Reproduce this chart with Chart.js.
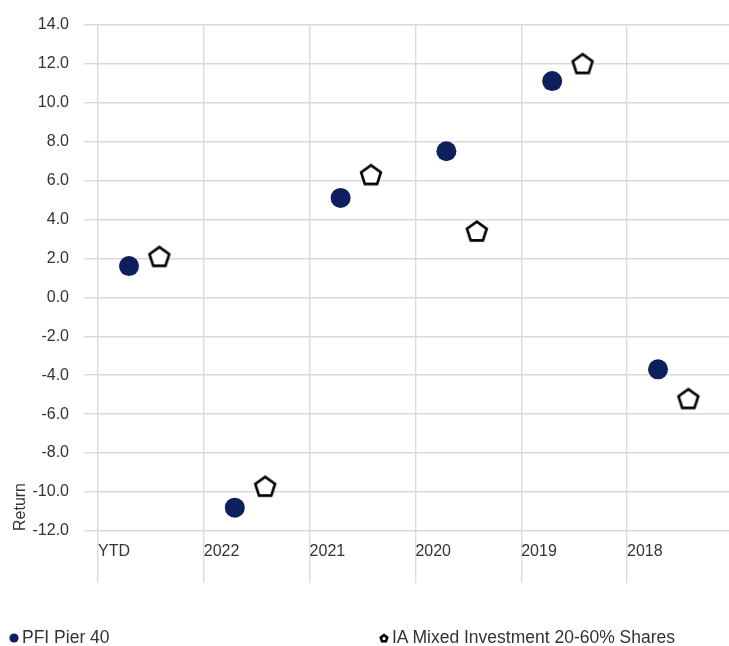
<!DOCTYPE html>
<html>
<head>
<meta charset="utf-8">
<script src="https://cdn.jsdelivr.net/npm/chart.js@4"></script>
<style>
  html, body { margin: 0; padding: 0; background: #fff; overflow: hidden; }
  #wrap { position: relative; width: 729px; height: 646px; }
  .leg { position: absolute; top: 626px; font: 17.5px "Liberation Sans", Arial, sans-serif; color: #333; white-space: nowrap; line-height: 22px; }
</style>
</head>
<body>
<div id="wrap">
  <canvas id="myChart" width="729" height="646"></canvas>
  <div class="leg" id="leg1" style="left:22px"></div>
  <div class="leg" id="leg2" style="left:392px"></div>
</div>
<script>
categories = ["YTD", "2022", "2021", "2020", "2019", "2018"];
fundName = "PFI Pier 40";
fundReturns = [1.6, -10.8, 5.1, 7.5, 11.1, -3.7];
sectorName = "IA Mixed Investment 20-60% Shares";
sectorReturns = [2.1, -9.7, 6.3, 3.4, 12.0, -5.2];
yTicks = [-12, -10, -8, -6, -4, -2, 0, 2, 4, 6, 8, 10, 12, 14];

navy = "rgb(13, 31, 92)";
gridColor = "#dadada";
fontFamily = '"Liberation Sans", Arial, sans-serif';

// pentagon marker drawn on a small canvas
function pentagon(size, r, lw, fill, hole) {
  let c = document.createElement("canvas");
  c.width = size;
  c.height = size;
  let ctx = c.getContext("2d");
  let cx = size / 2;
  let cy = size / 2 + r * 0.095;
  function path(rr) {
    ctx.beginPath();
    for (let i = 0; i < 5; i++) {
      let a = -Math.PI / 2 + (i * 2 * Math.PI) / 5;
      let px = cx + rr * Math.cos(a);
      let py = cy + rr * Math.sin(a);
      if (i == 0) ctx.moveTo(px, py);
      else ctx.lineTo(px, py);
    }
    ctx.closePath();
  }
  path(r);
  ctx.fillStyle = fill;
  ctx.fill();
  if (lw > 0) {
    ctx.lineWidth = lw;
    ctx.strokeStyle = "#000";
    ctx.stroke();
  }
  if (hole) {
    path(hole);
    ctx.fillStyle = "#fff";
    ctx.fill();
  }
  return c;
}

fundPoints = [];
sectorPoints = [];
for (i = 0; i < categories.length; i++) {
  fundPoints.push({ x: i + 0.293, y: fundReturns[i] });
  sectorPoints.push({ x: i + 0.58, y: sectorReturns[i] });
}

config = {
  type: "scatter",
  data: {
    datasets: [
      {
        label: fundName,
        data: fundPoints,
        pointStyle: "circle",
        pointRadius: 10,
        pointHoverRadius: 10,
        backgroundColor: navy,
        borderColor: navy,
        borderWidth: 0,
      },
      {
        label: sectorName,
        data: sectorPoints,
        pointStyle: pentagon(28, 10.4, 2.6, "#fff", 0),
        pointRadius: 10,
        backgroundColor: "#fff",
        borderColor: "#000",
      },
    ],
  },
  options: {
    responsive: false,
    animation: false,
    layout: {
      autoPadding: false,
      padding: { top: 23, right: 0, bottom: 0, left: 0 },
    },
    plugins: {
      legend: { display: false },
      tooltip: { enabled: false },
    },
    scales: {
      x: {
        type: "linear",
        min: 0,
        max: 5.964,
        border: { display: false },
        grid: { color: gridColor, lineWidth: 1.4, tickLength: 52 },
        afterBuildTicks: function (scale) {
          scale.ticks = categories.map(function (c, i) {
            return { value: i };
          });
        },
        afterFit: function (scale) {
          scale.height = 115;
          scale.paddingLeft = 0;
          scale.paddingRight = 0;
        },
        ticks: {
          align: "start",
          padding: -41,
          color: "#333",
          font: { family: fontFamily, size: 16 },
          callback: function (v) {
            return categories[v];
          },
        },
      },
      y: {
        min: -12,
        max: 14,
        border: { display: false },
        grid: { color: gridColor, lineWidth: 1.4, tickLength: 14 },
        afterBuildTicks: function (scale) {
          scale.ticks = yTicks.map(function (v) {
            return { value: v };
          });
        },
        afterFit: function (scale) {
          scale.width = 98;
        },
        ticks: {
          padding: 15,
          color: "#333",
          font: { family: fontFamily, size: 16 },
          callback: function (v) {
            return v.toFixed(1);
          },
        },
        title: {
          display: true,
          text: "Return",
          align: "start",
          color: "#333",
          padding: { top: 11, bottom: 0 },
          font: { family: fontFamily, size: 16 },
        },
      },
    },
  },
};
myChart = new Chart(document.getElementById("myChart"), config);

// legend under the chart
leg1 = document.getElementById("leg1");
leg1.textContent = fundName;
dot = document.createElement("canvas");
dot.width = 10;
dot.height = 10;
dctx = dot.getContext("2d");
dctx.fillStyle = navy;
dctx.beginPath();
dctx.arc(5, 5, 4.6, 0, Math.PI * 2);
dctx.fill();
dot.style.position = "absolute";
dot.style.left = "-13px";
dot.style.top = "7px";
leg1.appendChild(dot);

leg2 = document.getElementById("leg2");
leg2.textContent = sectorName;
icon = pentagon(12, 5, 0, "#000", 1.8);
icon.style.position = "absolute";
icon.style.left = "-14px";
icon.style.top = "6px";
leg2.appendChild(icon);
</script>
</body>
</html>
